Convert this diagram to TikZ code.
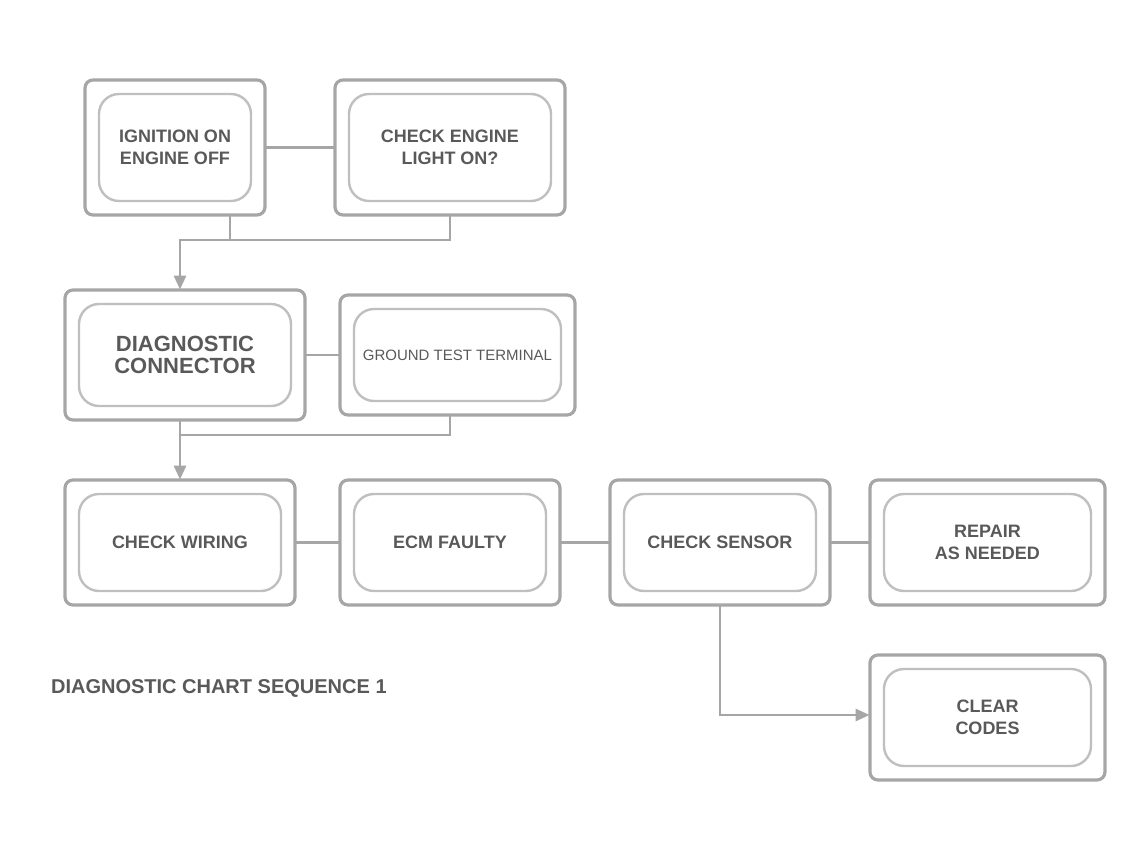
\documentclass[tikz,border=0pt]{standalone}
\usepackage{fontspec}
\setmainfont{Liberation Sans}
\usetikzlibrary{arrows.meta}
\begin{document}
\begin{tikzpicture}[x=0.5pt,y=-0.5pt,
  outerbox/.style={draw=black!35,line width=1.6pt,rounded corners=4pt},
  innerbox/.style={draw=black!25,line width=1.2pt,rounded corners=10pt},
  lbl/.style={text=black!65,font=\bfseries\fontsize{9}{11}\selectfont,align=center},
  conn/.style={draw=black!35,line width=1.4pt},
  arr/.style={conn,-{Triangle[width=6pt,length=7pt]}}]
\useasboundingbox (0,0) rectangle (1137,855);
% boxes
\newcommand{\drbox}[6]{% name, x1,y1,x2,y2, text
  \draw[outerbox] (#2,#3) rectangle (#4,#5);
  \draw[innerbox] (#2+14,#3+14) rectangle (#4-14,#5-14);
  \node[lbl,minimum width={(#4-#2)*0.5pt},minimum height={(#5-#3)*0.5pt}] (#1) at ({(#2+#4)/2},{(#3+#5)/2}) {#6};}
\drbox{tl}{85}{80}{265}{215}{IGNITION ON\\ENGINE OFF}
\drbox{tr}{335}{80}{565}{215}{CHECK ENGINE\\LIGHT ON?}
\drbox{ml}{65}{290}{305}{420}{\fontsize{11}{13}\selectfont DIAGNOSTIC\\\fontsize{11}{13}\selectfont CONNECTOR}
\drbox{mr}{340}{295}{575}{415}{\mdseries\fontsize{7.5}{9}\selectfont GROUND TEST TERMINAL}
\drbox{ba}{65}{480}{295}{605}{CHECK WIRING}
\drbox{bb}{340}{480}{560}{605}{ECM FAULTY}
\drbox{bc}{610}{480}{830}{605}{CHECK SENSOR}
\drbox{bd}{870}{480}{1105}{605}{REPAIR\\AS NEEDED}
\drbox{be}{870}{655}{1105}{780}{CLEAR\\CODES}
\node[lbl,anchor=west,font=\bfseries\fontsize{10}{12}\selectfont] (note) at (44,688) {DIAGNOSTIC CHART SEQUENCE 1};
% connectors
\coordinate (j1) at (230,240);
\coordinate (j2) at (450,240);
\coordinate (j3) at (180,240);
\draw[conn] (tl.east) -- (tr.west);
\draw[conn] (tl.south -| j1) -- (j1) -- (j2) -- (tr.south -| j2);
\draw[arr] (j1) -- (j3) -- (ml.north -| j3);
\draw[conn] (ml.east) -- (mr.west);
\coordinate (k1) at (180,435);
\coordinate (k2) at (450,435);
\draw[conn] (mr.south -| k2) -- (k2) -- (k1);
\draw[arr] (ml.south -| k1) -- (ba.north -| k1);
\draw[conn] (ba.east) -- (bb.west);
\draw[conn] (bb.east) -- (bc.west);
\draw[conn] (bc.east) -- (bd.west);
\coordinate (m1) at (720,715);
\draw[arr] (bc.south -| m1) -- (m1) -- (be.west |- m1);
\end{tikzpicture}
\end{document}
